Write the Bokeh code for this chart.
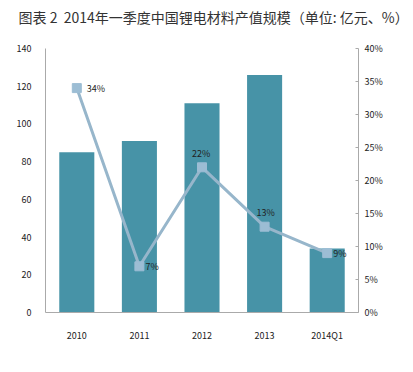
from bokeh.plotting import figure
from bokeh.models import Range1d, LinearAxis, FixedTicker, PrintfTickFormatter, ColumnDataSource, Legend, LegendItem
from bokeh.core.properties import value
from bokeh.embed import file_html
from bokeh.resources import INLINE

categories = ["2010", "2011", "2012", "2013", "2014Q1"]
output_value = [85, 91, 111, 126, 34]
growth = [34, 7, 22, 13, 9]
growth_labels = ["34%", "7%", "22%", "13%", "9%"]
label_dx = [10, 6, -10, -8, 6]
label_dy = [0, 0, -14, -14, 0]

FONT = "Noto Sans CJK SC"
BAR = "#4793A7"
LINE = "#97B6CB"

p = figure(frame_width=313, frame_height=264, x_range=categories, y_range=Range1d(0, 140),
           output_backend="svg", toolbar_location=None,
           min_border_left=45, min_border_right=55, min_border_top=48, min_border_bottom=60)
p.x_range.range_padding = 0
p.extra_y_ranges = {"pct": Range1d(0, 40)}
p.outline_line_color = None
p.grid.grid_line_color = None
p.background_fill_color = "white"
p.border_fill_color = "white"

p.title.text = "图表 2\u00a0\u00a02014年一季度中国锂电材料产值规模（单位: 亿元、%）\n\u00a0"
p.title.text_font = FONT
p.title.text_font_size = "14px"
p.title.text_font_style = "normal"
p.title.text_color = "#333333"
p.title.offset = -27
p.title.standoff = 4

src = ColumnDataSource(dict(x=categories, v=output_value, g=growth, lab=growth_labels, dx=label_dx, dy=label_dy))

bars = p.vbar(x="x", top="v", width=0.56, source=src, fill_color=BAR, line_color=None)
ln = p.line(x="x", y="g", source=src, y_range_name="pct", line_color=LINE, line_width=3)
mk = p.scatter(x="x", y="g", source=src, y_range_name="pct", marker="square", size=9,
               fill_color="#9CBDD4", line_color="#9CBDD4")
p.text(x="x", y="g", text="lab", source=src, y_range_name="pct", x_offset="dx", y_offset="dy",
       text_font=value(FONT), text_font_size="9px", text_color="#222222", text_baseline="middle")

ax = p.yaxis[0]
ax.ticker = FixedTicker(ticks=[0, 20, 40, 60, 80, 100, 120, 140])
ax.major_tick_line_color = None
ax.minor_tick_line_color = None
ax.axis_line_color = "#AAAAAA"
ax.major_label_text_font = FONT
ax.major_label_text_font_size = "9px"
ax.major_label_text_color = "#222222"
ax.major_label_standoff = 8

ra = LinearAxis(y_range_name="pct", ticker=FixedTicker(ticks=[0, 5, 10, 15, 20, 25, 30, 35, 40]),
                formatter=PrintfTickFormatter(format="%d%%"))
ra.axis_line_color = "#AAAAAA"
ra.major_tick_line_color = "#AAAAAA"
ra.major_tick_in = 3
ra.major_tick_out = 0
ra.minor_tick_line_color = None
ra.major_label_text_font = FONT
ra.major_label_text_font_size = "9px"
ra.major_label_text_color = "#222222"
ra.major_label_standoff = 6
p.add_layout(ra, "right")

xa = p.xaxis[0]
xa.axis_line_color = "#AAAAAA"
xa.major_tick_line_color = None
xa.minor_tick_line_color = None
xa.major_label_text_font = FONT
xa.major_label_text_font_size = "9px"
xa.major_label_text_color = "#222222"
xa.major_label_standoff = 10

legend = Legend(items=[LegendItem(label="产值规模（亿元）", renderers=[bars]),
                       LegendItem(label="增速（%）", renderers=[ln, mk])],
                orientation="horizontal", location="center",
                label_text_font=FONT, label_text_font_size="10px", label_text_color="#333333",
                glyph_width=20, glyph_height=7, spacing=14, label_standoff=3,
                background_fill_alpha=0, border_line_color=None, padding=2, margin=0)
p.add_layout(legend, "below")

open("out.html", "w").write(file_html(p, INLINE))
